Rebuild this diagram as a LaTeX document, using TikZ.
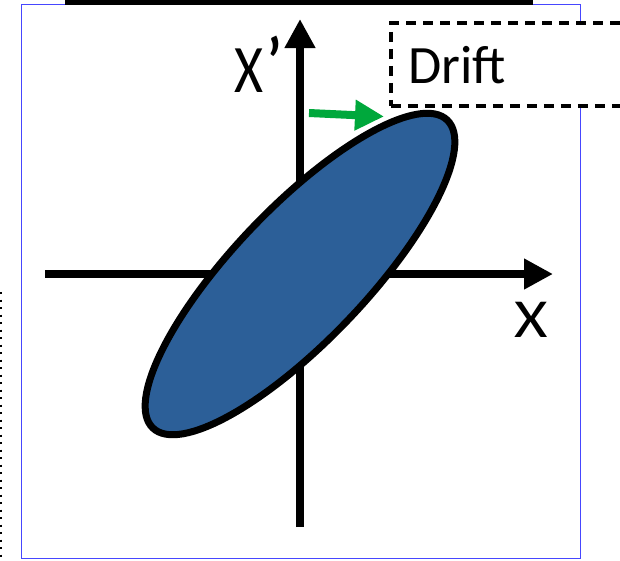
\documentclass[tikz,border=0pt]{standalone}
\usepackage{fontspec}
\setmainfont{Carlito}
\usetikzlibrary{arrows.meta}
\definecolor{ellblue}{RGB}{44,95,152}
\definecolor{arrgreen}{RGB}{0,168,60}
\definecolor{frameblue}{RGB}{70,70,255}
\tikzset{
  axis/.style={line width=8pt, -{Triangle[length=29pt,width=29pt]}},
  axislabel/.style={inner sep=0pt},
  driftbox/.style={draw, fill=white, line width=3.5pt, dash pattern=on 10pt off 7pt},
  phase/.style={draw, line width=7pt, fill=ellblue},
  driftarrow/.style={draw=arrgreen, line width=8pt, -{Triangle[length=29pt,width=29pt]}}
}
\begin{document}
\begin{tikzpicture}[x=1pt,y=1pt]
\useasboundingbox (0,0) rectangle (620,-560);
\fill[white] (0,0) rectangle (620,-560);
% outer frame
\draw[frameblue, line width=1pt] (21,-4.5) rectangle (580,-558);
% top box (cut)
\draw[line width=4.6pt] (67.5,30) rectangle (531,-2.3);
% left dotted line
\draw[line width=2.3pt, dash pattern=on 2.2pt off 5.3pt] (1,-292) -- (1,-560);
% drift box
\node[driftbox, anchor=north west, minimum width=260pt, minimum height=83pt] (drift) at (389,-21) {};
\node[inner sep=0pt, anchor=base west, font=\fontsize{54}{58}\selectfont] (drifttext) at (408,-83) {Drift};
% axes
\coordinate (ybot) at (300,-527);
\coordinate (ytop) at (300,-19);
\coordinate (xleft) at (45,-274);
\coordinate (xright) at (553,-274);
\draw[axis] (ybot) -- (ytop);
\draw[axis] (xleft) -- (xright);
\node[axislabel, anchor=base west, xscale=0.82, transform shape, font=\fontsize{68}{72}\selectfont] (xplabel) at (234,-92) {X\kern5pt\raisebox{7pt}{\bfseries ’}};
\node[axislabel, anchor=base, xscale=1.17, transform shape, font=\fontsize{55}{60}\selectfont] (xlabel) at (531,-337) {X};
% phase-space ellipse
\coordinate (c) at (300,-274);
\path[phase] (c) circle [x radius=213pt, y radius=66.5pt, rotate=46.3];
% drift arrow
\coordinate (ga) at (309,-113);
\coordinate (gb) at (384,-116.5);
\draw[driftarrow] (ga) -- (gb);
\end{tikzpicture}
\end{document}
